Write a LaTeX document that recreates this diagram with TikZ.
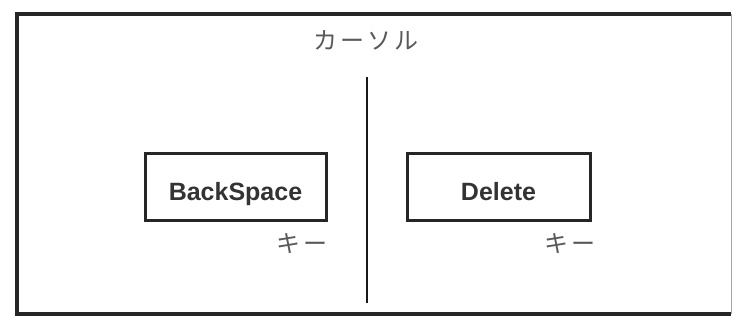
\documentclass[tikz,border=0pt]{standalone}
\usepackage{fontspec}
\setmainfont{Liberation Sans}
\newfontfamily\jpfont{Noto Sans CJK JP}
\begin{document}
\begin{tikzpicture}[x=1pt,y=-1pt,
  keybox/.style={draw=black!85,line width=3pt,inner sep=0pt,minimum height=67pt,
    text height=26pt,text depth=0pt,
    font=\fontsize{25}{25}\selectfont\bfseries,text=black!80},
  jp/.style={inner sep=0pt,text=black!65,font=\jpfont\fontsize{24}{24}\selectfont\addfontfeature{LetterSpace=12}},
  frame/.style={draw=black!85,line width=3.5pt},
  divider/.style={draw=black!90,line width=2.5pt}]
\useasboundingbox (0,0) rectangle (733,325);
\fill[white] (0,0) rectangle (733,325);
\coordinate (tl) at (17,14);
\coordinate (tr) at (731,14);
\coordinate (bl) at (17,314);
\coordinate (br) at (731,314);
\draw[frame] (tr) -- (tl) -- (bl) -- (br);
\draw[draw=black!35,line width=1pt] (tr) -- (br);
\node[jp] (title) at (366,40) {カーソル};
\coordinate (vtop) at (367,77);
\coordinate (vbot) at (367,303);
\draw[divider] (vtop) -- (vbot);
\node[keybox,minimum width=181pt] (bs) at (235.5,187) {BackSpace};
\node[keybox,minimum width=183pt] (del) at (498.5,187) {Delete};
\node[jp] (k1) at (302,244) {キー};
\node[jp] (k2) at (570,244) {キー};
\end{tikzpicture}
\end{document}
